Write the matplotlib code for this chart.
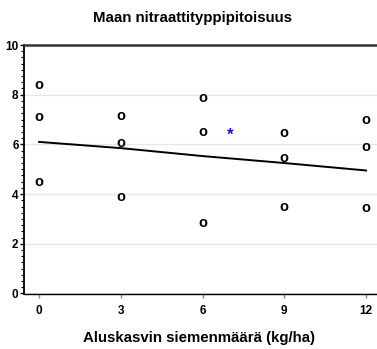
import matplotlib
matplotlib.use("Agg")
import matplotlib.pyplot as plt
from matplotlib.ticker import MultipleLocator

plt.rcParams['font.family'] = ['Liberation Sans', 'DejaVu Sans']

# data
obs_x = [0, 0, 0, 3, 3, 3, 6, 6, 6, 9, 9, 9, 12, 12, 12]
obs_y = [8.4, 7.1, 4.5, 7.15, 6.05, 3.9, 7.85, 6.5, 2.85, 6.45, 5.45, 3.5, 7.0, 5.9, 3.45]
fit_x = [0, 3, 6, 9, 12]
fit_y = [6.1, 5.85, 5.53, 5.25, 4.95]
opt_x = [7]
opt_y = [6.5]
xticks = [0, 3, 6, 9, 12]
yticks = [0, 2, 4, 6, 8, 10]

fig = plt.figure(figsize=(3.77, 3.49), dpi=100)
ax = fig.add_axes([0.064, 0.157, 0.936, 0.714])

for y in yticks:
    ax.axhline(y, color='#e6e6e6', lw=1.0, zorder=0)

ax.plot(fit_x, fit_y, color='black', lw=1.4, zorder=2)
for x, y in zip(obs_x, obs_y):
    ax.text(x, y, 'o', ha='center', va='center', fontsize=10.5, fontweight='bold', zorder=3)
for x, y in zip(opt_x, opt_y):
    ax.text(x, y - 0.12, '*', ha='center', va='center', fontsize=12, fontweight='bold', color='#1010ee', zorder=3)

ax.set_xlim(-0.55, 12.4)
ax.set_ylim(-0.03, 10)
ax.set_xticks(xticks)
ax.set_yticks(yticks)
ax.yaxis.set_minor_locator(MultipleLocator(0.25))
ax.tick_params(axis='y', which='major', length=3, width=1, pad=1, labelsize=8.5)
ax.tick_params(axis='y', which='minor', length=2, width=0.8)
ax.tick_params(axis='x', which='major', length=3, width=1, color='#888888', pad=5, labelsize=8.5)
for lab in ax.get_xticklabels() + ax.get_yticklabels():
    lab.set_fontweight('bold')

ax.spines['right'].set_visible(False)
ax.spines['left'].set_linewidth(1.3)
ax.spines['top'].set_linewidth(1.8)
ax.spines['top'].set_color('#333333')
ax.spines['bottom'].set_linewidth(1.0)

fig.text(0.51, 0.948, 'Maan nitraattityppipitoisuus', ha='center', va='center',
         fontsize=10.8, fontweight='bold')
fig.text(0.529, 0.032, 'Aluskasvin siemenmäärä (kg/ha)', ha='center', va='center',
         fontsize=10.8, fontweight='bold')

fig.savefig('out.png', dpi=100)
